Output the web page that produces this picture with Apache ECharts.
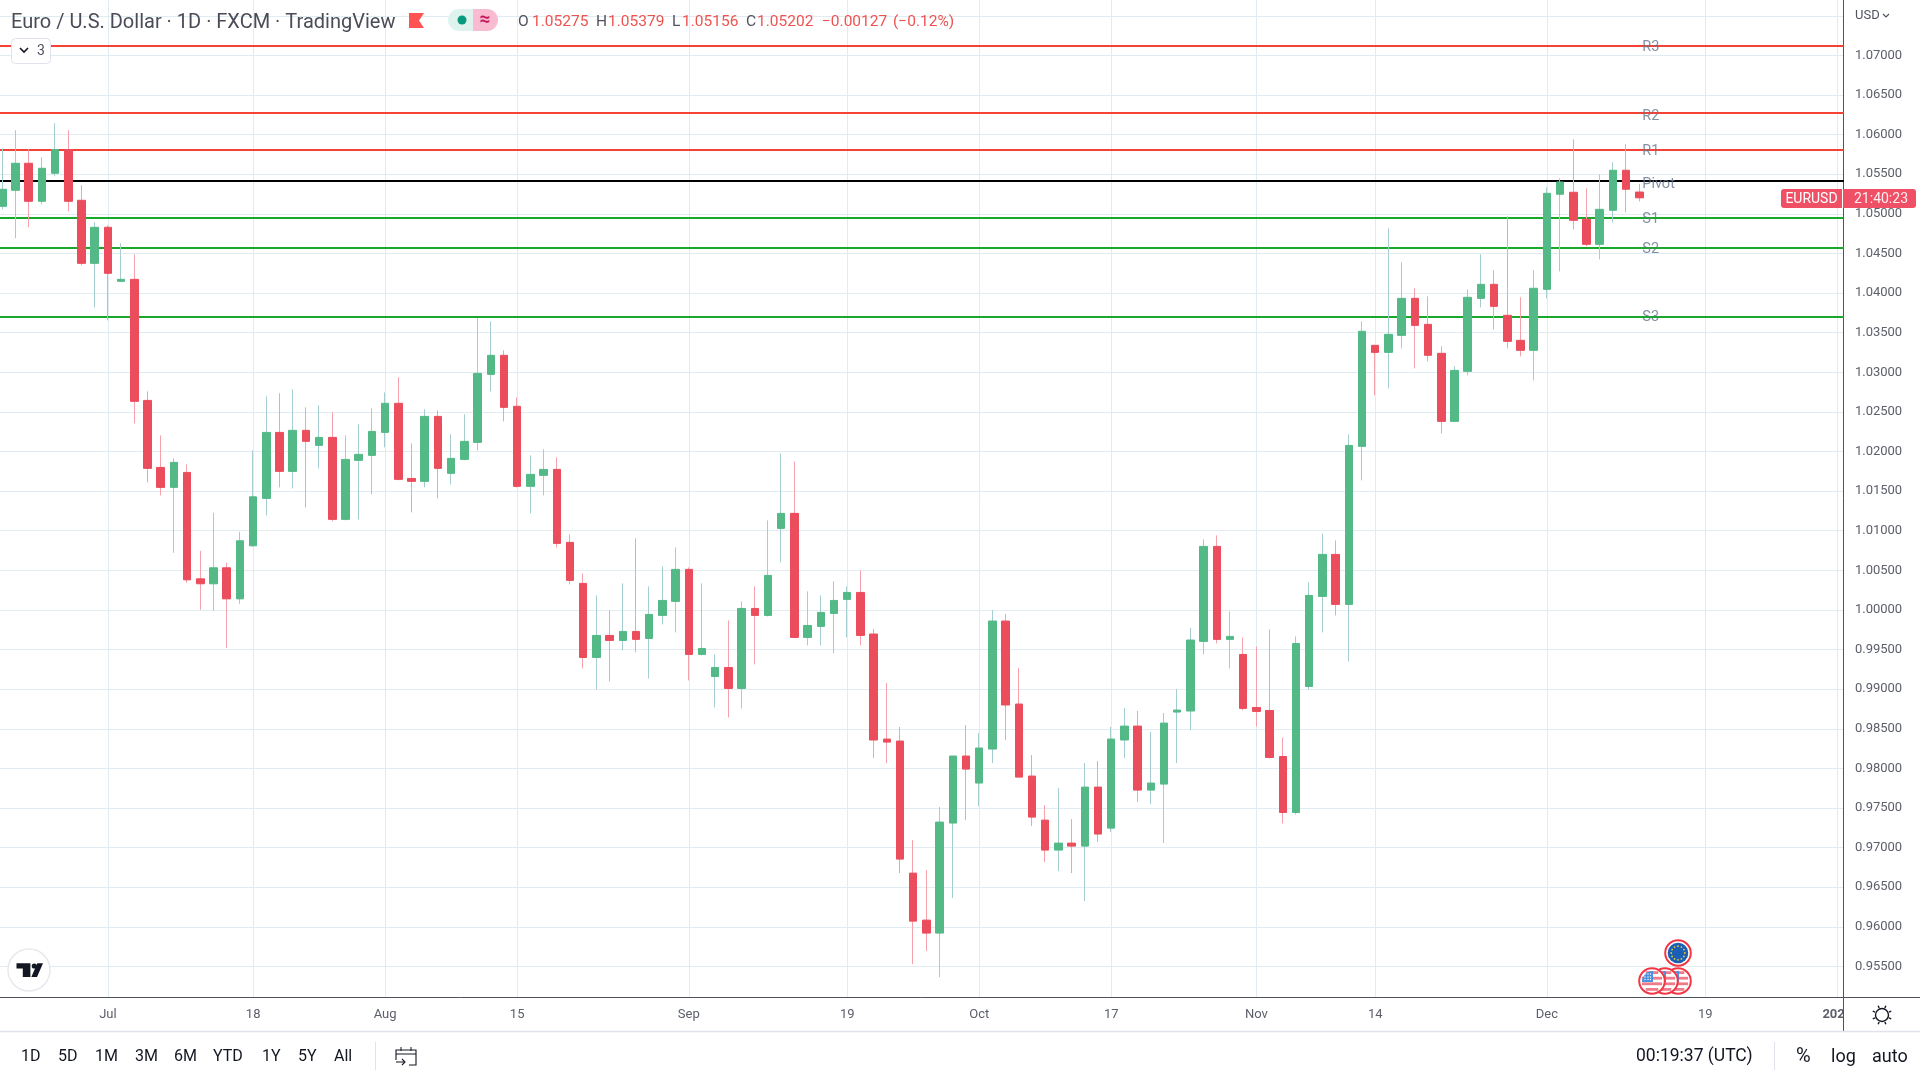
<!DOCTYPE html>
<html><head><meta charset="utf-8">
<style>html,body{margin:0;padding:0;background:#fff}#c{width:1920px;height:1080px}</style>
<script src="https://cdn.jsdelivr.net/npm/echarts@6/dist/echarts.min.js"></script>
</head><body><div id="c"></div>
<script>
const opens=[
1.05095,1.05297,1.05638,1.05158,1.05512,1.05811,1.05171,1.04375,1.04830,1.04148,
1.04173,1.02645,1.01799,1.01547,1.01736,1.00393,1.00330,1.00532,1.00140,1.00810,
1.01408,1.02241,1.01749,1.02267,1.02077,1.02178,1.01143,1.01888,1.01951,1.02241,
1.02608,1.01660,1.01623,1.02443,1.01724,1.01900,1.02115,1.02974,1.03214,1.02570,
1.01560,1.01699,1.01774,1.00853,1.00335,0.99400,0.99678,0.99615,0.99729,0.99640,
0.99931,1.00108,1.00512,0.99438,0.99160,0.99274,0.99009,1.00019,0.99931,1.01029,
1.01219,0.99653,0.99792,0.99956,1.00133,1.00221,0.99696,0.98370,0.98345,0.96678,
0.96085,0.95921,0.97310,0.98156,0.97815,0.98244,0.99860,0.98812,0.97903,0.97347,
0.96969,0.97057,0.97019,0.97764,0.97246,0.98358,0.98534,0.97726,0.97802,0.98711,
0.98724,0.99603,1.00802,0.99628,0.99438,0.98769,0.98731,0.98150,0.97443,0.99034,
1.00171,1.00701,1.00070,1.02065,1.03340,1.03251,1.03466,1.03933,1.03605,1.03239,
1.02380,1.03012,1.03933,1.04110,1.03719,1.03403,1.03277,1.04047,1.05247,1.05272,
1.04931,1.04615,1.05045,1.05550,1.05275];
const closes=[
1.05310,1.05638,1.05158,1.05575,1.05811,1.05158,1.04375,1.04830,1.04249,1.04173,
1.02633,1.01787,1.01547,1.01863,1.00380,1.00330,1.00532,1.00140,1.00873,1.01428,
1.02241,1.01749,1.02267,1.02128,1.02178,1.01143,1.01900,1.01964,1.02254,1.02608,
1.01648,1.01623,1.02443,1.01787,1.01913,1.02128,1.02986,1.03214,1.02557,1.01560,
1.01711,1.01774,1.00840,1.00373,0.99400,0.99678,0.99615,0.99729,0.99628,0.99943,
1.00120,1.00512,0.99438,0.99514,0.99274,0.99009,1.00019,0.99931,1.00436,1.01219,
0.99653,0.99804,0.99969,1.00120,1.00221,0.99678,0.98358,0.98332,0.96855,0.96072,
0.95921,0.97322,0.98156,0.97991,0.98257,0.99860,0.98800,0.97890,0.97385,0.96969,
0.97057,0.97019,0.97764,0.97171,0.98370,0.98534,0.97726,0.97815,0.98572,0.98736,
0.99620,1.00802,0.99628,0.99666,0.98757,0.98719,0.98138,0.97443,0.99577,1.00183,
1.00701,1.00070,1.02077,1.03517,1.03251,1.03479,1.03933,1.03592,1.03214,1.02380,
1.03024,1.03946,1.04110,1.03832,1.03390,1.03277,1.04060,1.05259,1.05402,1.04918,
1.04615,1.05057,1.05550,1.05310,1.05202];
const lows=[
1.05057,1.04691,1.04830,1.05120,1.05474,1.05032,1.04350,1.03820,1.03656,1.04148,
1.02355,1.01610,1.01446,1.00721,1.00343,1.00002,0.99989,0.99522,1.00077,1.00797,
1.01193,1.01547,1.01534,1.01294,1.01787,1.01118,1.01130,1.01143,1.01458,1.02052,
1.01635,1.01231,1.01547,1.01408,1.01585,1.01888,1.02014,1.02759,1.02380,1.01547,
1.01219,1.01446,1.00789,1.00322,0.99262,0.98996,0.99097,0.99489,0.99464,0.99135,
0.99817,0.99716,0.99110,0.99426,0.98769,0.98643,0.98756,0.99312,0.99918,1.00600,
0.99653,0.99552,0.99552,0.99451,0.99653,0.99552,0.98130,0.98067,0.96678,0.95529,
0.95693,0.95365,0.96363,0.97347,0.97524,0.98067,0.98358,0.97890,0.97272,0.96817,
0.96703,0.96678,0.96325,0.97070,0.97196,0.98130,0.97575,0.97549,0.97057,0.98067,
0.98484,0.99438,0.99577,0.99262,0.98731,0.98529,0.98125,0.97304,0.97418,0.98997,
0.99716,0.99931,0.99350,1.01635,1.02709,1.02797,1.03302,1.03049,1.03138,1.02229,
1.02380,1.02961,1.03820,1.03542,1.03302,1.03201,1.02898,1.03933,1.04274,1.04805,
1.04590,1.04426,1.04893,1.05019,1.05156];
const highs=[
1.05823,1.06055,1.05815,1.05714,1.06143,1.06055,1.05360,1.04893,1.04855,1.04628,
1.04489,1.02759,1.02203,1.01913,1.01837,1.00747,1.01226,1.00595,1.00986,1.02014,
1.02696,1.02734,1.02784,1.02557,1.02582,1.02494,1.02203,1.02342,1.02544,1.02746,
1.02936,1.02102,1.02532,1.02519,1.02216,1.02469,1.03681,1.03643,1.03277,1.02683,
1.01951,1.02027,1.01926,1.00954,1.00461,1.00183,0.99994,1.00335,1.00903,1.00297,
1.00549,1.00789,1.00537,1.00335,0.99438,0.99868,1.00108,1.00297,1.01130,1.01976,
1.01875,1.00234,1.00183,1.00360,1.00297,1.00499,0.99759,0.99077,0.98522,0.97095,
0.96716,0.97512,0.98156,0.98547,0.98446,0.99999,0.99949,0.99267,0.98168,0.97537,
0.97751,0.97360,0.98067,0.98092,0.98522,0.98762,0.98724,0.98459,0.98699,0.99002,
0.99772,1.00891,1.00941,0.99981,0.99653,0.99539,0.99754,0.98390,0.99666,1.00348,
1.00966,1.00878,1.02216,1.03643,1.03340,1.04817,1.04388,1.04060,1.03959,1.03327,
1.03075,1.04047,1.04489,1.04287,1.04969,1.03946,1.04287,1.05335,1.05449,1.05941,
1.05322,1.05499,1.05651,1.05878,1.05379];
const sessionCount=140;
const tickLabels=['Jul','18','Aug','15','Sep','19','Oct','17','Nov','14','Dec','19','2023'];
const tickSessions=[8,19,29,39,52,64,74,84,95,104,117,129,139];
const levelNames=['R3','R2','R1','Pivot','S1','S2','S3'];
const levelValues=[1.07119,1.06273,1.05806,1.05415,1.04947,1.04569,1.03698];
const levelColors=['#f44336','#f44336','#f44336','#000000','#1aa82a','#1aa82a','#1aa82a'];
const levelLabelShift=[1.5,3,1.5,3,1,1,0];

const UP='#53b987',DOWN='#eb4d5c',UPW='#a3cdd0',DOWNW='#f7a1ad';
const GRID='#e1ecf2',LINE='#50535e',FONT='Roboto, sans-serif';
const categories=Array.from({length:sessionCount},(_,i)=>{const k=tickSessions.indexOf(i);return k>=0?tickLabels[k]:''});
const wickData=opens.map((o,i)=>[o,closes[i],lows[i],highs[i]]);
const bodyData=opens.map((o,i)=>[o,closes[i],Math.min(o,closes[i]),Math.max(o,closes[i])]);
const tickSet=new Set(tickSessions);

const T=(text,x,y,o={})=>({type:'text',z:o.z||50,silent:true,style:{text,x,y,fill:o.fill||'#131722',font:(o.w||'normal')+' '+(o.s||15)+'px '+(o.f||FONT),align:o.a||'left',verticalAlign:'middle',opacity:o.op==null?1:o.op}});
const R=(x,y,w,h,fill,o={})=>({type:'rect',z:o.z||40,silent:true,shape:{x,y,width:w,height:h,r:o.r||0},style:{fill,stroke:o.stroke||null,lineWidth:o.lw||1}});
const L=(x1,y1,x2,y2,stroke,o={})=>({type:'line',z:o.z||45,silent:true,shape:{x1,y1,x2,y2},style:{stroke,lineWidth:o.lw||1}});
const C=(cx,cy,r,fill,o={})=>({type:'circle',z:o.z||60,silent:true,shape:{cx,cy,r},style:{fill,stroke:o.stroke||null,lineWidth:o.lw||1}});
const P=(points,stroke,lw=1.1,z=50)=>({type:'polyline',z,silent:true,shape:{points},style:{stroke,fill:null,lineWidth:lw}});

function usFlag(cx,cy,z){
  const out=[C(cx,cy,12.8,'#ffffff',{stroke:'#f23645',lw:2,z})];
  [-8.4,-2.8,2.8,8.4].forEach(dy=>{
    const yMid=dy,h=2.8,hw=Math.sqrt(Math.max(0,110-yMid*yMid));
    out.push(R(cx-hw,cy+dy-h/2,2*hw,h,'#f0798a',{z}));
  });
  out.push({type:'sector',z,silent:true,shape:{cx:cx+1,cy:cy+1,r:11,r0:0,startAngle:Math.PI,endAngle:Math.PI*1.5},style:{fill:'#4a90e2'}});
  [-7,-4,-1.5].forEach(dx=>[-7,-4,-1.5].forEach(dy=>out.push(C(cx+dx,cy+dy,.7,'#ffffff',{z}))));
  return out;
}
function euFlag(cx,cy,z){
  const out=[C(cx,cy,12.8,'#ffffff',{stroke:'#f23645',lw:2,z}),C(cx,cy,10.3,'#1a5fb4',{z})];
  for(let i=0;i<12;i++){const a=i*Math.PI/6;out.push(C(cx+6.8*Math.cos(a),cy+6.8*Math.sin(a),.9,'#e9c93b',{z}));}
  return out;
}
const rays=[];for(let i=0;i<8;i++){const a=i*Math.PI/4+Math.PI/8;rays.push(L(1882+7.5*Math.cos(a),1015+7.5*Math.sin(a),1882+10*Math.cos(a),1015+10*Math.sin(a),'#131722',{z:61,lw:1.4}));}

const chrome=[
  R(1844,998,76,33,'#ffffff',{z:30}),
  L(1843,997.5,1920,997.5,LINE,{lw:1}),
  L(1843.5,997,1843.5,1031,LINE,{lw:1}),
  R(0,1032,1920,48,'#ffffff',{z:30}),
  L(0,1031.5,1920,1031.5,'#e0e3eb',{lw:1.5}),
  T('Euro / U.S. Dollar · 1D · FXCM · TradingView',11,23,{s:20,fill:'#4a4d57'}),
  {type:'polygon',z:50,silent:true,shape:{points:[[409,13],[424,13],[419,20.5],[424,28],[409,28]]},style:{fill:'#ff5252'}},
  R(448,9,25,22,'#dff3ee',{r:[11,0,0,11]}),
  R(473,9,25,22,'#f8bbd0',{r:[0,11,11,0]}),
  C(462,20,4.5,'#089981',{z:50}),
  T('≈',485,20,{s:19,fill:'#c2185b',a:'center',w:'bold',z:50}),
  T('O',518,22.5,{s:15.5,fill:'#50535e'}),T('1.05275',532,22.5,{s:15.5,fill:'#ef5350'}),
  T('H',596,22.5,{s:15.5,fill:'#50535e'}),T('1.05379',608,22.5,{s:15.5,fill:'#ef5350'}),
  T('L',672,22.5,{s:15.5,fill:'#50535e'}),T('1.05156',682,22.5,{s:15.5,fill:'#ef5350'}),
  T('C',746,22.5,{s:15.5,fill:'#50535e'}),T('1.05202',757,22.5,{s:15.5,fill:'#ef5350'}),
  T('−0.00127',822,22.5,{s:15.5,fill:'#ef5350'}),T('(−0.12%)',893,22.5,{s:15.5,fill:'#ef5350'}),
  R(11.5,38.5,39,25,'#ffffff',{stroke:'#e0e3eb',r:4,z:48}),
  P([[20,48],[24,52],[28,48]],'#131722',1.6),
  T('3',37,51,{s:14,fill:'#50535e'}),
  C(29,970,21,'#ffffff',{stroke:'#e8e9ee',lw:1.5,z:48}),
  {type:'polygon',z:50,silent:true,shape:{points:[[16.5,963.3],[30.4,963.3],[30.4,977],[22.8,977],[22.8,968.5],[16.5,968.5]]},style:{fill:'#131722'}},
  C(34.3,966,2.6,'#131722',{z:50}),
  {type:'polygon',z:50,silent:true,shape:{points:[[43,963.3],[37,977],[31.3,977],[37.3,963.3]]},style:{fill:'#131722'}},
  T('USD',1855,16,{s:13,fill:'#50535e'}),
  P([[1883,14],[1886,17],[1889,14]],'#50535e',1.2),
  R(1781,189,61,19,'#ef5065',{r:[3,0,0,3]}),
  T('EURUSD',1811.5,199,{s:14,fill:'#ffffff',a:'center'}),
  R(1843,189,73,19,'#ef5065',{r:[0,3,3,0]}),
  T('21:40:23',1881,199,{s:14,fill:'#ffffff',a:'center',op:.9}),
  C(1882,1015,6.5,'#ffffff',{stroke:'#131722',lw:1.4,z:60}),...rays,
  ...[['1D',21],['5D',58],['1M',95],['3M',135],['6M',174],['YTD',213],['1Y',262],['5Y',298],['All',334]].map(([t,x])=>T(t,x,1057,{s:16})),
  L(375.5,1042,375.5,1070,'#e0e3eb'),
  P([[400,1050],[416,1050],[416,1065],[409,1065]],'#131722'),
  P([[396,1060],[396,1050],[400,1050]],'#131722'),
  L(401,1047,401,1051,'#131722',{z:50}),L(411,1047,411,1051,'#131722',{z:50}),
  L(396,1054,416,1054,'#131722',{z:50}),
  L(396,1062,405,1062,'#131722',{z:50}),
  P([[402,1059],[405,1062],[402,1065]],'#131722'),
  T('00:19:37 (UTC)',1636,1057,{s:17.5}),
  L(1774.5,1042,1774.5,1070,'#e0e3eb'),
  T('%',1796,1057,{s:20}),T('log',1831,1057,{s:18}),T('auto',1872,1057,{s:18}),
  ...usFlag(1678,981,62),...usFlag(1665,981,63),...usFlag(1652,981,64),...euFlag(1678,953,65),
];

const chart=echarts.init(document.getElementById('c'),null,{renderer:'canvas'});
chart.setOption({
  animation:false,backgroundColor:'#ffffff',
  grid:{left:-4.3,right:76.1,top:0,bottom:82.5,containLabel:false,outerBoundsMode:'none'},
  xAxis:{type:'category',data:categories,boundaryGap:true,
    axisLine:{show:true,lineStyle:{color:LINE,width:1}},axisTick:{show:false},
    axisLabel:{interval:(i)=>tickSet.has(i),margin:11,fontFamily:FONT,fontSize:13,color:'#5d606b',
      formatter:(v)=>v==='2023'?'{b|2023}':v,rich:{b:{fontWeight:'bold',fontFamily:FONT,fontSize:13,color:'#5d606b'}}},
    splitLine:{show:true,alignWithLabel:true,interval:(i)=>tickSet.has(i),lineStyle:{color:GRID,width:1}}},
  yAxis:{type:'value',position:'right',offset:-1,scale:true,min:0.95108,max:1.07699,minInterval:0.005,maxInterval:0.005,
    axisLine:{show:true,lineStyle:{color:LINE,width:1}},axisTick:{show:false},
    axisLabel:{margin:12,padding:[2,0,0,0],fontFamily:FONT,fontSize:13,color:'#5d606b',showMinLabel:false,showMaxLabel:false,formatter:(v)=>v>1.0745?'':v.toFixed(5)},
    splitLine:{show:true,showMinLine:false,showMaxLine:false,lineStyle:{color:GRID,width:1}}},
  tooltip:{show:false},
  series:[
    {type:'line',name:'levels',data:[],z:1,silent:true,
      markLine:{silent:true,z:1,precision:5,symbol:['none','none'],animation:false,label:{show:false},
        data:levelValues.map((v,i)=>({yAxis:v,lineStyle:{color:levelColors[i],width:2,type:'solid'}}))}},
    {type:'candlestick',name:'wicks',data:wickData,barWidth:1,z:2,silent:true,
      itemStyle:{color:UPW,color0:DOWNW,borderColor:UPW,borderColor0:DOWNW,borderWidth:1}},
    {type:'candlestick',name:'bodies',data:bodyData,barWidth:8,z:3,silent:true,
      itemStyle:{color:UP,color0:DOWN,borderColor:UP,borderColor0:DOWN,borderWidth:1}},
    {type:'scatter',name:'levelLabels',z:10,silent:true,symbolSize:0,
      data:levelValues.map((v,i)=>({name:levelNames[i],value:[124,v],
        label:{show:true,position:'right',distance:3,offset:[0,levelLabelShift[i]],formatter:'{b}',fontFamily:FONT,fontSize:14.5,color:'#64768b'}}))}
  ],
  graphic:{elements:chrome}
});
</script></body></html>
